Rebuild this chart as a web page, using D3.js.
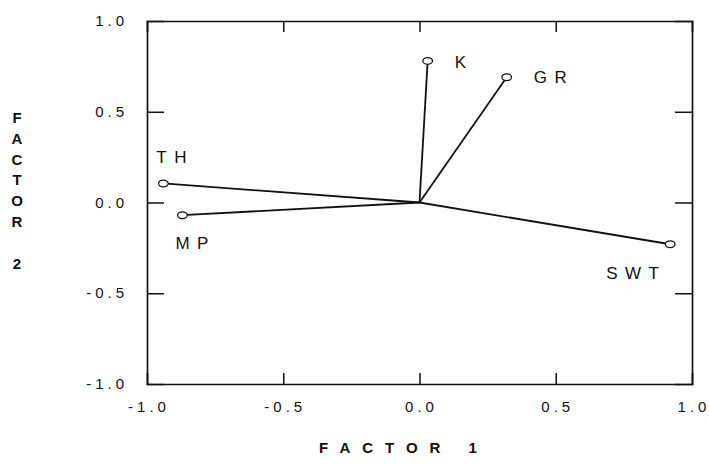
<!DOCTYPE html>
<html>
<head>
<meta charset="utf-8">
<script src="https://cdn.jsdelivr.net/npm/d3@7/dist/d3.min.js"></script>
<style>
  html, body { margin: 0; padding: 0; background: #fff; }
  svg { display: block; }
  text { font-family: "Liberation Sans", Arial, sans-serif; fill: #111; }
</style>
</head>
<body>
<script>
// Factor loadings of the five variables
const variables = ["K", "GR", "TH", "MP", "SWT"];
const factor1 = [0.03, 0.32, -0.94, -0.87, 0.92];
const factor2 = [0.78, 0.69, 0.105, -0.07, -0.23];

// Axis ticks
const xTicks = [-1.0, -0.5, 0.0, 0.5, 1.0];
const yTicks = [-1.0, -0.5, 0.0, 0.5, 1.0];
const tickLabel = v => v.toFixed(1);

// Where each variable's name sits relative to its marker
const labelPlacement = {
  K:   { dx: 27, dy: 7 },
  GR:  { dx: 27, dy: 6 },
  TH:  { dx: -7, dy: -20 },
  MP:  { dx: -7, dy: 34 },
  SWT: { dx: -64, dy: 35 }
};

const W = 709, H = 464;
const margin = { left: 147, right: W - 692, top: 21, bottom: H - 384 };

const svg = d3.select("body").append("svg")
  .attr("width", W).attr("height", H);

const x = d3.scaleLinear().domain([-1, 1]).range([margin.left, W - margin.right]);
const y = d3.scaleLinear().domain([-1, 1]).range([H - margin.bottom, margin.top]);

const innerX = xTicks.filter(v => v > -1 && v < 1);
const innerY = yTicks.filter(v => v > -1 && v < 1);

// Frame with inward ticks on all four sides
const axes = svg.append("g").attr("class", "axes");
axes.append("g")
  .attr("transform", `translate(0,${y(-1)})`)
  .call(d3.axisBottom(x).tickValues(innerX).tickSize(-11).tickFormat(""));
axes.append("g")
  .attr("transform", `translate(0,${y(1)})`)
  .call(d3.axisTop(x).tickValues(innerX).tickSize(-11).tickFormat(""));
axes.append("g")
  .attr("transform", `translate(${x(-1)},0)`)
  .call(d3.axisLeft(y).tickValues(innerY).tickSize(-17).tickFormat(""));
axes.append("g")
  .attr("transform", `translate(${x(1)},0)`)
  .call(d3.axisRight(y).tickValues(innerY).tickSize(-17).tickFormat(""));
axes.selectAll("path.domain").attr("stroke", "#111").attr("stroke-width", 1.7);
axes.selectAll(".tick line").attr("stroke", "#111").attr("stroke-width", 1.5);

// Tick labels
svg.append("g").selectAll("text").data(yTicks).join("text")
  .attr("x", 128).attr("y", d => y(d) + 5)
  .attr("text-anchor", "end")
  .style("font-size", "15px").style("letter-spacing", "4px")
  .text(tickLabel);

svg.append("g").selectAll("text").data(xTicks).join("text")
  .attr("x", d => x(d) + 2).attr("y", 412)
  .attr("text-anchor", "middle")
  .style("font-size", "15px").style("letter-spacing", "4px")
  .text(tickLabel);

// Axis titles
svg.append("text")
  .attr("x", 404).attr("y", 453)
  .attr("text-anchor", "middle")
  .style("font-size", "15px").style("font-weight", "bold").style("letter-spacing", "12px")
  .text("FACTOR  1");

const yTitle = ["F", "A", "C", "T", "O", "R", "", "2"];
svg.append("g").selectAll("text").data(yTitle).join("text")
  .attr("x", 17).attr("y", (d, i) => 123 + i * 20.8)
  .attr("text-anchor", "middle")
  .style("font-size", "15px").style("font-weight", "bold")
  .text(d => d);

// Loading vectors from the origin
const rows = variables.map((name, i) => ({ name, f1: factor1[i], f2: factor2[i] }));

svg.append("g").selectAll("line").data(rows).join("line")
  .attr("x1", x(0)).attr("y1", y(0))
  .attr("x2", d => x(d.f1)).attr("y2", d => y(d.f2))
  .attr("stroke", "#111").attr("stroke-width", 1.8);

svg.append("g").selectAll("ellipse").data(rows).join("ellipse")
  .attr("cx", d => x(d.f1)).attr("cy", d => y(d.f2))
  .attr("rx", 4.8).attr("ry", 3.4)
  .attr("fill", "#fff").attr("stroke", "#111").attr("stroke-width", 1.3);

svg.append("g").selectAll("text").data(rows).join("text")
  .attr("x", d => x(d.f1) + labelPlacement[d.name].dx)
  .attr("y", d => y(d.f2) + labelPlacement[d.name].dy)
  .style("font-size", "17px").style("letter-spacing", "7.5px")
  .text(d => d.name);
</script>
</body>
</html>
